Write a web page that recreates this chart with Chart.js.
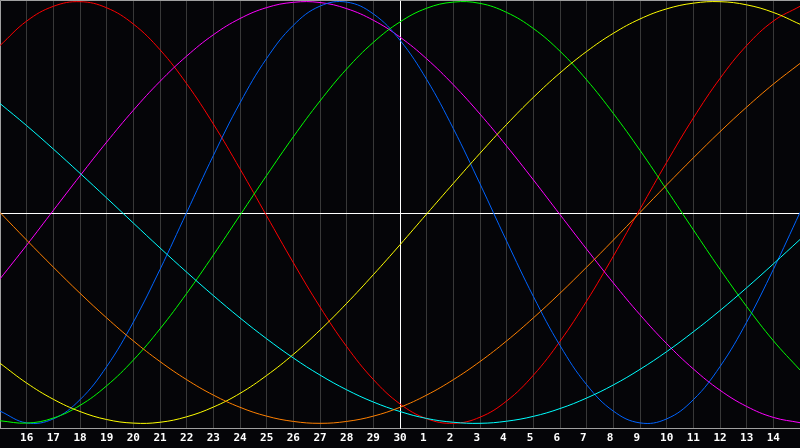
<!DOCTYPE html>
<html>
<head>
<meta charset="utf-8">
<script src="https://cdn.jsdelivr.net/npm/chart.js@4"></script>
<style>
  html, body { margin: 0; padding: 0; background: #050508; }
  canvas { display: block; }
</style>
</head>
<body>
<canvas id="chart" width="800" height="448"></canvas>
<script>
// Days shown on the x axis (15th of one month to 15th of the next)
const days = [15, 16, 17, 18, 19, 20, 21, 22, 23, 24, 25, 26, 27, 28, 29, 30,
              1, 2, 3, 4, 5, 6, 7, 8, 9, 10, 11, 12, 13, 14, 15];
const todayIndex = 15;

// Cycle values, one per day (-1 .. 1)
const red = [0.792, 0.908, 0.978, 1.000, 0.971, 0.894, 0.772, 0.611, 0.420, 0.207,
             -0.016, -0.238, -0.448, -0.636, -0.792, -0.908, -0.978, -1.000, -0.971, -0.894,
             -0.772, -0.611, -0.420, -0.207, 0.016, 0.238, 0.448, 0.636, 0.792, 0.908, 0.978];
const magenta = [-0.315, -0.155, 0.010, 0.174, 0.334, 0.485, 0.622, 0.742, 0.843, 0.920,
                 0.972, 0.997, 0.996, 0.967, 0.912, 0.832, 0.729, 0.606, 0.467, 0.315,
                 0.155, -0.010, -0.174, -0.334, -0.485, -0.622, -0.742, -0.843, -0.920, -0.972, -0.997];
const blue = [-0.942, -0.998, -0.979, -0.888, -0.731, -0.520, -0.270, 0.000, 0.270, 0.520,
              0.731, 0.888, 0.979, 0.998, 0.942, 0.817, 0.631, 0.398, 0.136, -0.136,
              -0.398, -0.631, -0.817, -0.942, -0.998, -0.979, -0.888, -0.731, -0.520, -0.270, 0.000];
const green = [-0.988, -0.999, -0.975, -0.915, -0.822, -0.700, -0.552, -0.384, -0.202, -0.013,
               0.176, 0.359, 0.529, 0.681, 0.807, 0.904, 0.969, 0.998, 0.992, 0.949,
               0.873, 0.765, 0.629, 0.470, 0.295, 0.108, -0.082, -0.269, -0.446, -0.608, -0.747];
const yellow = [-0.715, -0.809, -0.886, -0.944, -0.982, -0.999, -0.995, -0.969, -0.923, -0.858,
                -0.773, -0.673, -0.558, -0.431, -0.295, -0.153, -0.007, 0.138, 0.281, 0.418,
                0.546, 0.662, 0.764, 0.850, 0.918, 0.966, 0.993, 1.000, 0.985, 0.949, 0.893];
const cyan = [0.517, 0.412, 0.301, 0.186, 0.069, -0.050, -0.168, -0.283, -0.394, -0.500,
              -0.599, -0.690, -0.771, -0.841, -0.899, -0.944, -0.977, -0.995, -1.000, -0.990,
              -0.967, -0.930, -0.880, -0.818, -0.744, -0.660, -0.566, -0.465, -0.357, -0.244, -0.128];
const orange = [0.000, -0.131, -0.259, -0.383, -0.500, -0.609, -0.707, -0.793, -0.866, -0.924,
                -0.966, -0.991, -1.000, -0.991, -0.966, -0.924, -0.866, -0.793, -0.707, -0.609,
                -0.500, -0.383, -0.259, -0.131, 0.000, 0.131, 0.259, 0.383, 0.500, 0.609, 0.707];

// Frame and the white "today" / zero lines
const framePlugin = {
    id: 'frame',
    beforeDatasetsDraw(chart) {
        const { ctx, chartArea: a, scales: { x, y } } = chart;
        ctx.save();
        ctx.lineWidth = 1;
        ctx.strokeStyle = '#ffffff';
        const yz = Math.round(y.getPixelForValue(0)) + 0.5;
        const xt = Math.round(x.getPixelForValue(todayIndex)) + 0.5;
        ctx.beginPath();
        ctx.moveTo(a.left, yz); ctx.lineTo(a.right, yz);
        ctx.moveTo(xt, a.top); ctx.lineTo(xt, a.bottom);
        ctx.stroke();
        ctx.strokeStyle = '#a0a0a0';
        ctx.beginPath();
        ctx.moveTo(a.left + 0.5, a.bottom);
        ctx.lineTo(a.left + 0.5, a.top + 0.5);
        ctx.lineTo(a.right, a.top + 0.5);
        ctx.stroke();
        ctx.restore();
    }
};

function series(data, color) {
    return { data: data, borderColor: color, borderWidth: 1, pointRadius: 0, tension: 0.4, fill: false };
}

new Chart(document.getElementById('chart'), {
    type: 'line',
    data: {
        labels: days,
        datasets: [
            series(orange, '#ff8000'),
            series(cyan, '#00ffff'),
            series(yellow, '#ffff00'),
            series(green, '#00ff00'),
            series(blue, '#0064ff'),
            series(magenta, '#ff00ff'),
            series(red, '#ff0000')
        ]
    },
    options: {
        responsive: false,
        animation: false,
        devicePixelRatio: 1,
        layout: { padding: 0 },
        plugins: { legend: { display: false }, tooltip: { enabled: false } },
        scales: {
            x: {
                offset: false,
                afterFit: scale => { scale.paddingLeft = 0; scale.paddingRight = 0; },
                grid: { color: '#383838', drawTicks: false },
                border: { color: '#a0a0a0' },
                ticks: {
                    autoSkip: false,
                    maxRotation: 0,
                    padding: 3,
                    color: '#ffffff',
                    font: { family: 'DejaVu Sans Mono', size: 11, weight: 'bold' },
                    callback: (v, i) => {
                        if (i === 0 || i === days.length - 1) return '';
                        const s = String(days[i]);
                        return s.length === 1 ? s + ' ' : s;
                    }
                }
            },
            y: { display: false, min: -1.026, max: 1.008 }
        }
    },
    plugins: [framePlugin]
});
</script>
</body>
</html>
